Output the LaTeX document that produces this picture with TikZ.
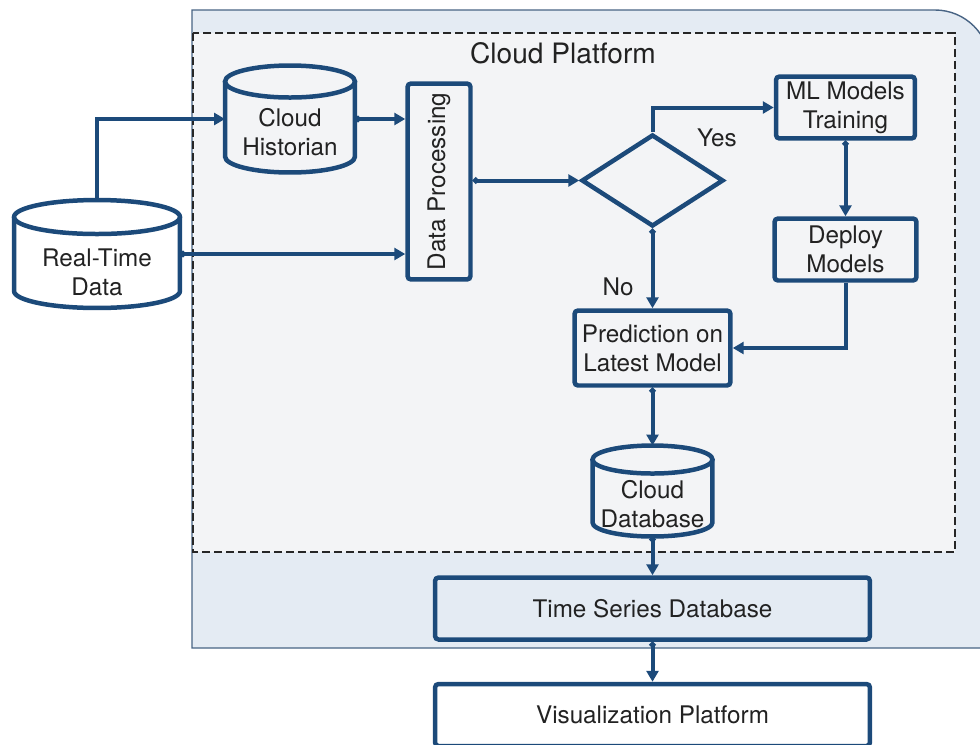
\documentclass[tikz,border=0pt]{standalone}
\usepackage{fontspec}
\setmainfont{TeX Gyre Heros}
\usetikzlibrary{arrows.meta,shapes.geometric}
\definecolor{flowblue}{RGB}{28,74,122}
\definecolor{panelblue}{RGB}{228,235,243}
\definecolor{cloudgray}{RGB}{243,244,246}
\definecolor{paneledge}{RGB}{72,100,132}
\definecolor{inktext}{RGB}{34,34,34}
\newcommand\flowfont{\fontsize{13.8}{16.6}\selectfont}
\newcommand\titlefont{\fontsize{16}{19}\selectfont}
\tikzset{
    panel/.style={draw=paneledge,line width=0.8pt,fill=panelblue},
    cloudbox/.style={draw=black!85,line width=1.1pt,dash pattern=on 0.16cm off 0.08cm,fill=cloudgray},
    procbox/.style={rectangle,draw=flowblue,line width=0.09cm,rounded corners=2pt,inner sep=0pt,align=center,text=inktext,font=\flowfont},
    dbnode/.style={rectangle,inner sep=0pt,outer sep=0pt},
    dbline/.style={draw=flowblue,line width=0.09cm},
    dblabel/.style={align=center,text=inktext,font=\flowfont},
    decision/.style={diamond,draw=flowblue,line width=0.09cm,inner sep=0pt},
    flow/.style={-{Triangle[length=0.22cm,width=0.24cm]},color=flowblue,line width=0.08cm},
    flowdot/.style={{Circle[length=0.12cm]}-{Triangle[length=0.22cm,width=0.24cm]},color=flowblue,line width=0.08cm},
    branch/.style={text=inktext,font=\flowfont}
}
% database drum around a named node: #1 node, #2 x radius, #3 y radius
\newcommand\drawdb[3]{%
    \draw[dbline] ([yshift=-#3]#1.north) ellipse [x radius=#2,y radius=#3];
    \draw[dbline] ([yshift=-#3]#1.north west) -- ([yshift=#3]#1.south west)
        arc[start angle=180,end angle=360,x radius=#2,y radius=#3] -- ([yshift=-#3]#1.north east);
}

\begin{document}
\begin{tikzpicture}[x=0.02cm,y=-0.02cm]
    \useasboundingbox (0,0) rectangle (980,744);
    % Platform panel and cloud area
    \draw[panel] (192,648) -- (192,10) -- (935,10) arc[start angle=90,end angle=0,radius=1.1cm] -- (990,648) -- cycle;
    \draw[cloudbox] (193,33) rectangle (955,552);
    \node[font=\titlefont,text=inktext] (cloudtitle) at (563,53) {Cloud Platform};
    % Sources
    \node[dbnode,minimum width=3.32cm,minimum height=2.16cm,
          label={[dblabel,yshift=-0.36cm]center:Real-Time\\Data}] (rt) at (97,254) {};
    \drawdb{rt}{1.66cm}{0.34cm}
    \node[dbnode,minimum width=2.6cm,minimum height=2.14cm,
          label={[dblabel,yshift=-0.26cm]center:Cloud\\Historian}] (ch) at (290,119) {};
    \drawdb{ch}{1.3cm}{0.32cm}
    \node[procbox,minimum width=1.26cm,minimum height=3.92cm,
          label={[dblabel,rotate=90]center:Data Processing}] (dp) at (439,181.5) {};
    % Model branch
    \node[decision,minimum width=2.84cm,minimum height=1.84cm] (dec) at (652.5,180.5) {};
    \node[procbox,minimum width=2.78cm,minimum height=1.24cm] (ml) at (845.5,107.5) {ML Models\\Training};
    \node[procbox,minimum width=2.84cm,minimum height=1.24cm] (dep) at (845.5,249.5) {Deploy\\Models};
    \node[procbox,minimum width=3.12cm,minimum height=1.5cm] (pred) at (652.5,348) {Prediction on\\Latest Model};
    % Storage and output
    \node[dbnode,minimum width=2.4cm,minimum height=1.82cm,
          label={[dblabel,yshift=-0.26cm]center:Cloud\\Database}] (cdb) at (652.5,491) {};
    \drawdb{cdb}{1.2cm}{0.28cm}
    \node[procbox,minimum width=8.7cm,minimum height=1.24cm] (tsd) at (652.5,608.5) {Time Series Database};
    \node[procbox,fill=white,minimum width=8.7cm,minimum height=1.24cm] (vis) at (652.5,715) {Visualization Platform};
    % Connectors
    \draw[flow] (rt.north) |- (ch.west);
    \draw[flowdot] (rt.east) -- (rt.east -| dp.west);
    \draw[flowdot] (ch.east) -- (ch.east -| dp.west);
    \draw[flowdot] (dp.east |- dec.west) -- (dec.west);
    \draw[flow] (dec.north) |- (ml.west);
    \node[branch] (yes) at (717,138) {Yes};
    \draw[flowdot] (dec.south) -- (pred.north);
    \node[branch] (no) at (618,287) {No};
    \draw[flowdot] (ml.south) -- (dep.north);
    \draw[flow] (dep.south) |- (pred.east);
    \draw[flowdot] (pred.south) -- (cdb.north);
    \draw[flowdot] (cdb.south) -- (tsd.north);
    \draw[flowdot] (tsd.south) -- (vis.north);
\end{tikzpicture}
\end{document}
